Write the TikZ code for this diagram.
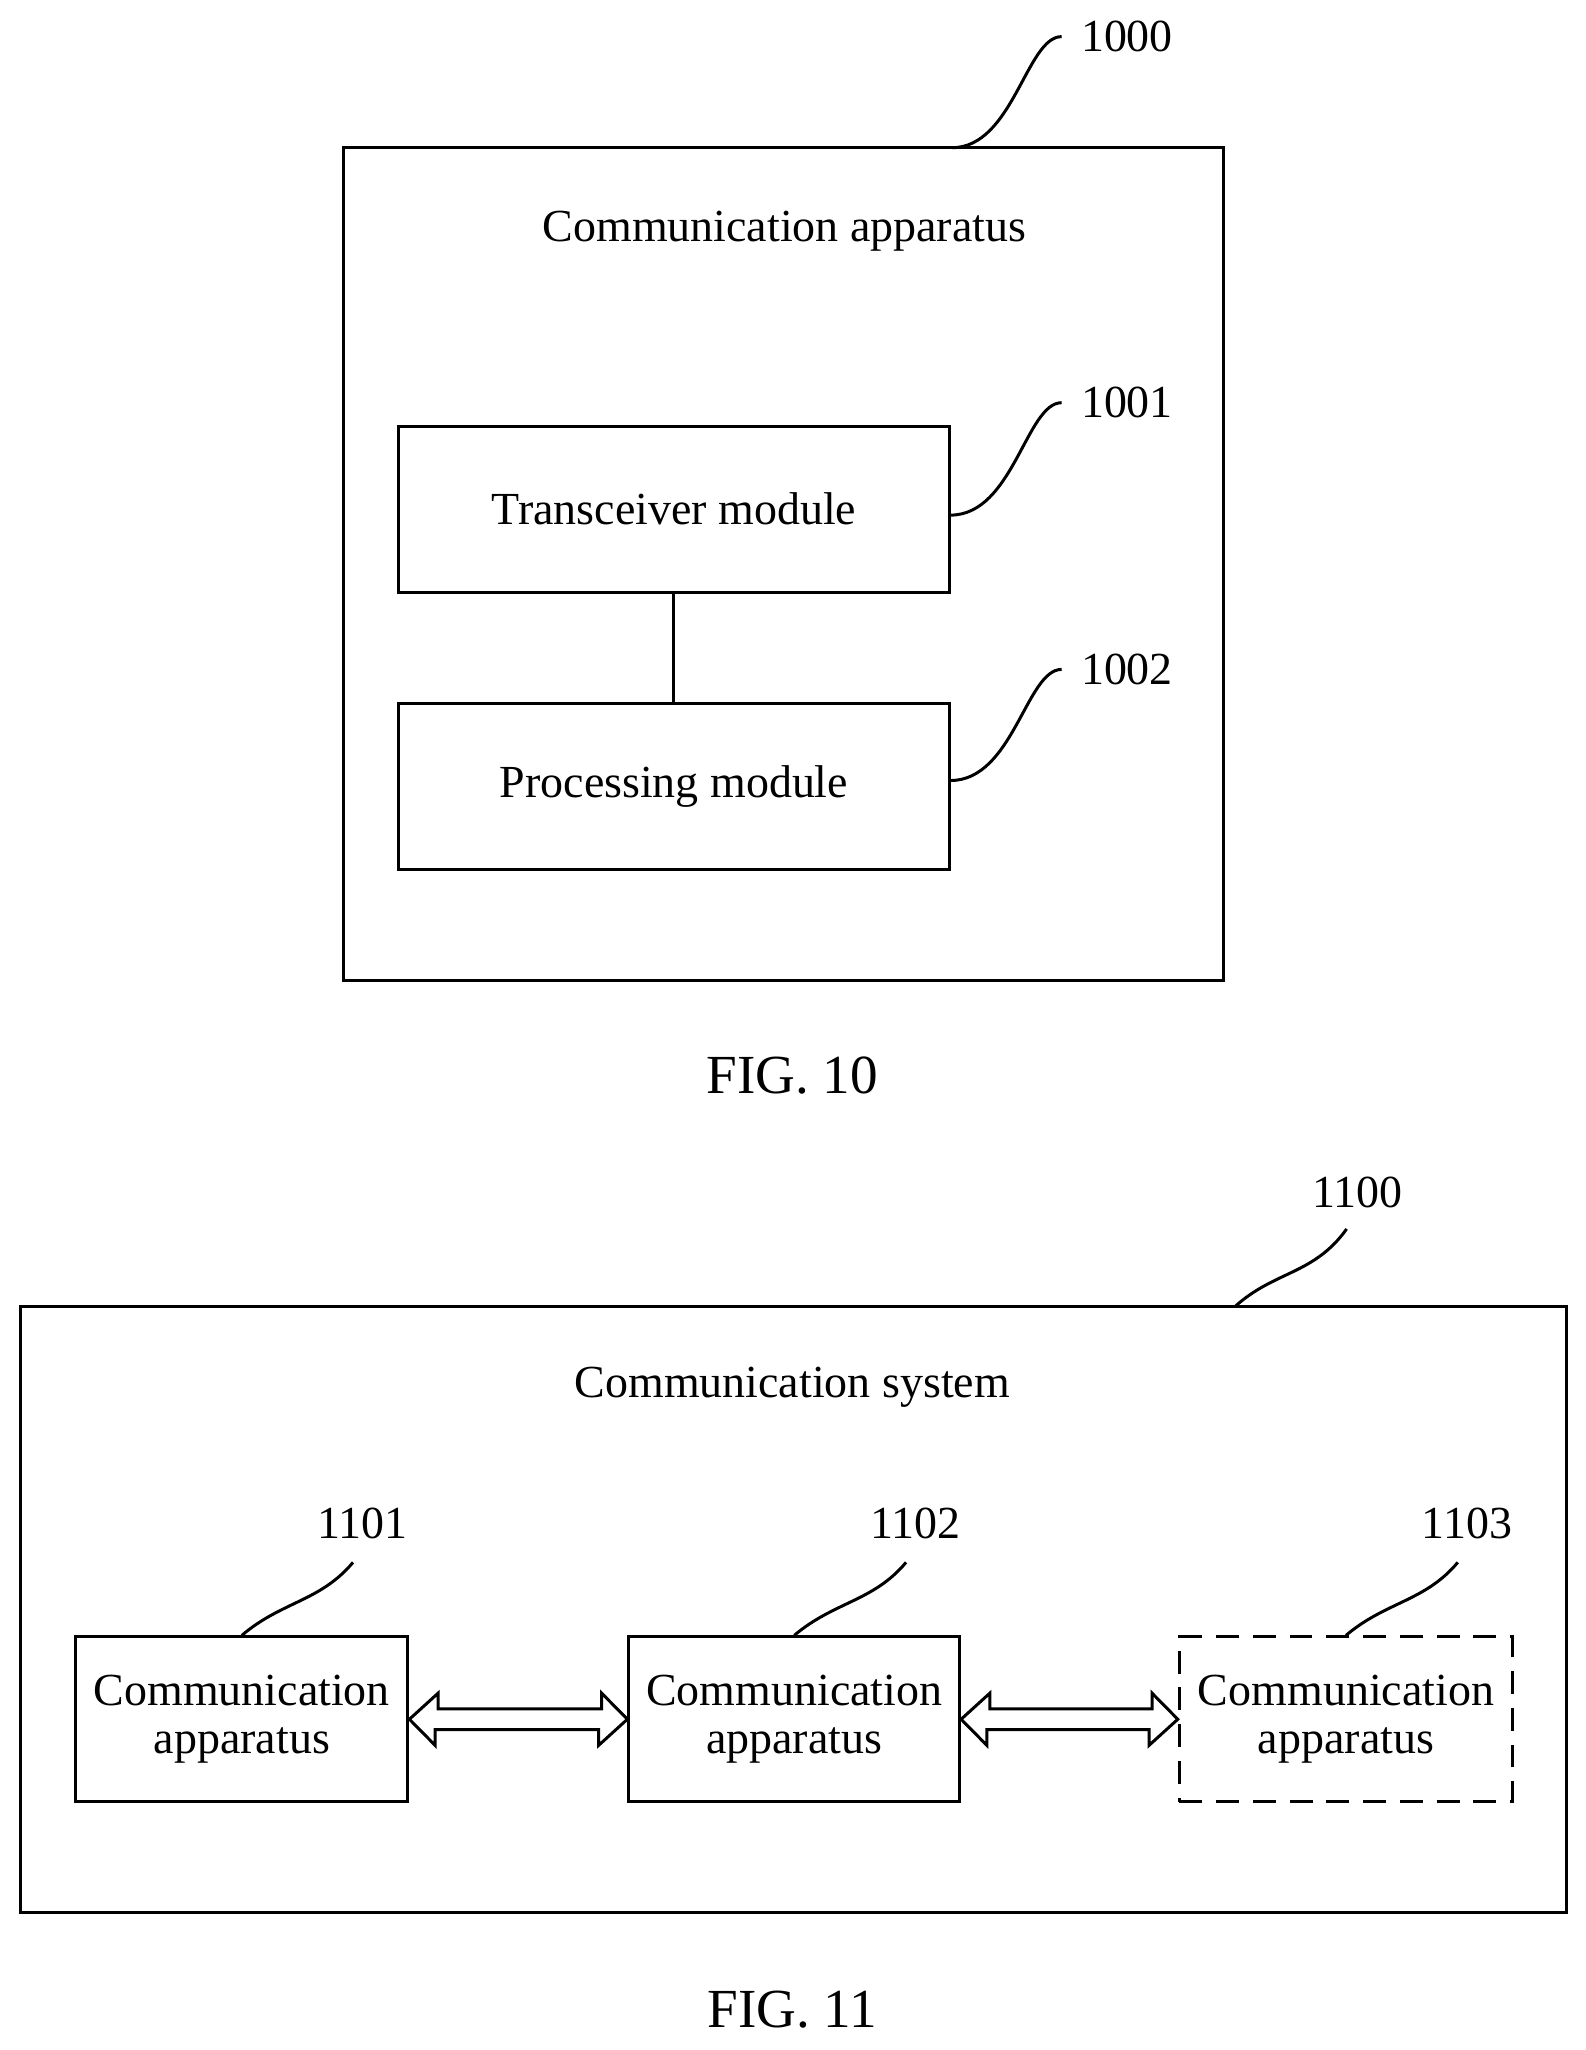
\documentclass[tikz,border=0pt]{standalone}
\usepackage{fontspec}
\setmainfont{Liberation Serif}
\begin{document}
\begin{tikzpicture}[x=0.02cm,y=-0.02cm,
  txt/.style={font=\fontsize{20pt}{21pt}\selectfont,inner sep=0pt},
  box/.style={draw,line width=1.3pt,txt,align=center},
  lead/.style={line width=1.3pt},
  dbl/.style={draw,line width=1.3pt,fill=white}]
\useasboundingbox (0,0) rectangle (1213,1568);
% FIG 10
\node[box,minimum width=673*0.02cm,minimum height=637*0.02cm] (outer10) at (599.5,431.5) {};
\node[txt] (t10) at (600,177) {Communication apparatus};
\node[box,minimum width=421*0.02cm,minimum height=127*0.02cm] (trx) at (515.5,389.5) {Transceiver module};
\node[box,minimum width=421*0.02cm,minimum height=127*0.02cm] (proc) at (515.5,601.5) {Processing module};
\draw[lead] (trx.south) -- (proc.south |- proc.north);
\node[txt] (l1000) at (862,28) {1000};
\node[txt] (l1001) at (862,308) {1001};
\node[txt] (l1002) at (862,512) {1002};
\coordinate (c1000) at (728,113);
\coordinate (c1001) at (727,394);
\coordinate (c1002) at (727,597);
\coordinate (e1000) at (812,28);
\coordinate (e1001) at (812,308);
\coordinate (e1002) at (812,512);
\draw[lead] (c1000) .. controls (775,113) and (785,28) .. (e1000);
\draw[lead] (c1001) .. controls (775,394) and (785,308) .. (e1001);
\draw[lead] (c1002) .. controls (775,597) and (785,512) .. (e1002);
\node[txt,font=\fontsize{24pt}{28pt}\selectfont] (f10) at (606,823) {FIG. 10};
% FIG 11
\node[box,minimum width=1182*0.02cm,minimum height=464*0.02cm] (outer11) at (607,1231) {};
\node[txt] (t11) at (606,1061) {Communication system};
\node[box,minimum width=254*0.02cm,minimum height=126*0.02cm] (a1) at (185,1315) {Communication\\apparatus};
\node[box,minimum width=253*0.02cm,minimum height=126*0.02cm] (a2) at (607.5,1315) {Communication\\apparatus};
\node[box,dashed,dash pattern=on 10pt off 6pt,minimum width=255*0.02cm,minimum height=126*0.02cm] (a3) at (1029.5,1315) {Communication\\apparatus};
\node[txt] (l1100) at (1038,912) {1100};
\node[txt] (l1101) at (277,1165) {1101};
\node[txt] (l1102) at (700,1165) {1102};
\node[txt] (l1103) at (1122,1165) {1103};
\coordinate (c1100) at (945,999);
\draw[lead] (c1100) .. controls (975,972) and (1005,975) .. (1030,940);
\draw[lead] (a1.north) .. controls (215,1225) and (245,1225) .. (270,1195);
\draw[lead] (a2.north) .. controls (638,1225) and (668,1225) .. (693,1195);
\draw[lead] (a3.north) .. controls (1060,1225) and (1090,1225) .. (1115,1195);
% double arrows
\draw[dbl] (a1.east) -- ++(22,-20) -- ++(0,12) -- ++(125,0) -- ++(0,-12) -- (a2.west) -- ++(-22,20) -- ++(0,-12) -- ++(-125,0) -- ++(0,12) -- cycle;
\draw[dbl] (a2.east) -- ++(22,-20) -- ++(0,12) -- ++(124,0) -- ++(0,-12) -- (a3.west) -- ++(-22,20) -- ++(0,-12) -- ++(-124,0) -- ++(0,12) -- cycle;
\node[txt,font=\fontsize{24pt}{28pt}\selectfont] (f11) at (606,1537) {FIG. 11};
\end{tikzpicture}
\end{document}
